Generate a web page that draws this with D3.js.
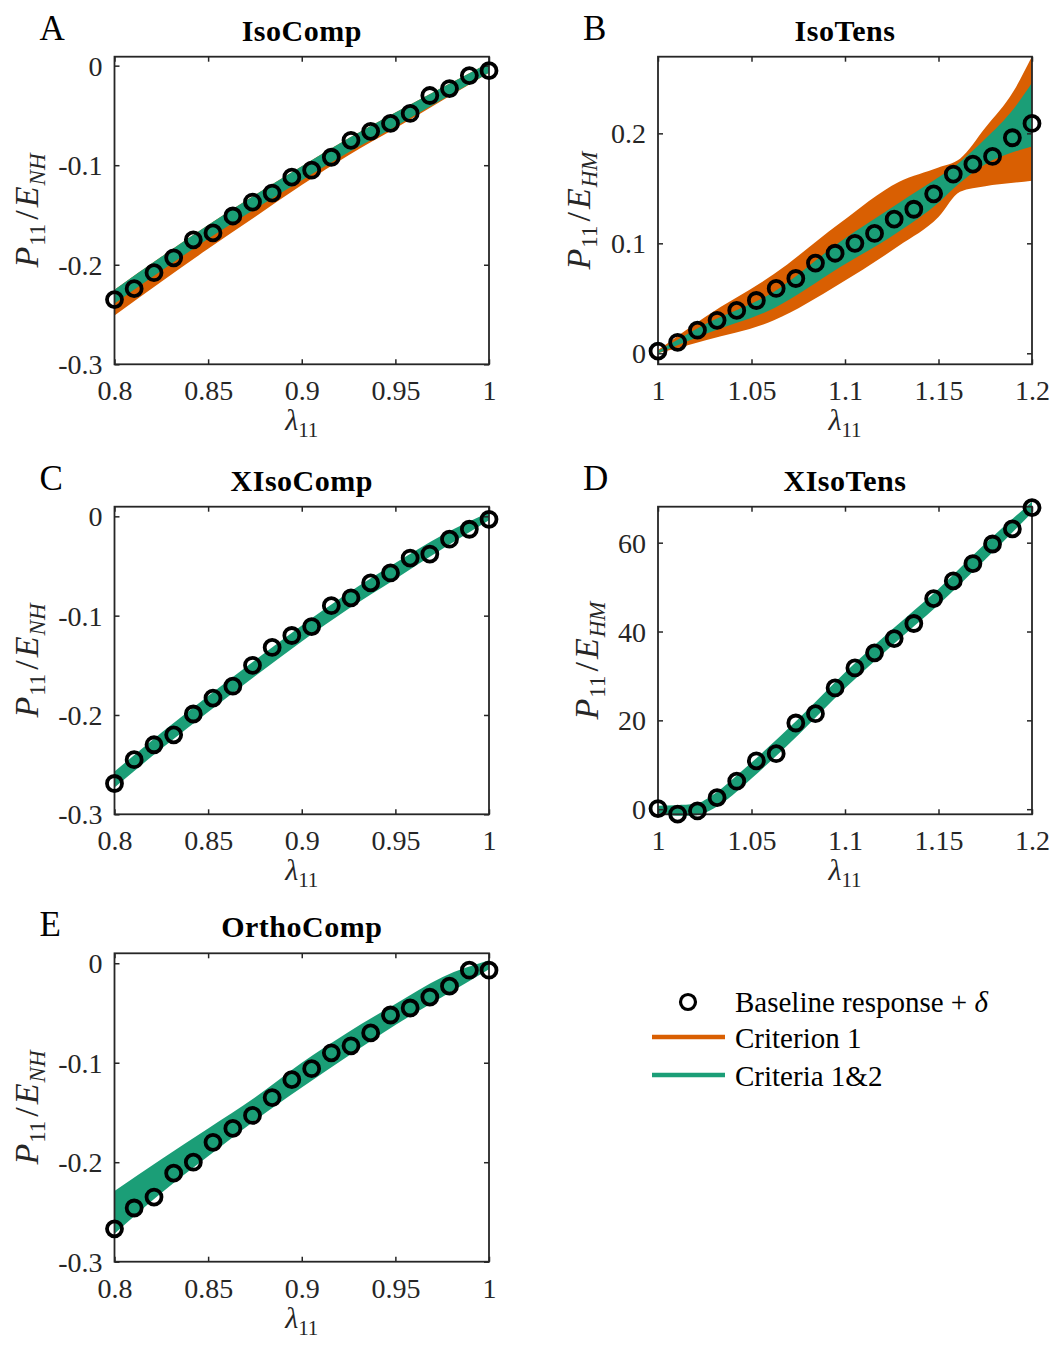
<!DOCTYPE html>
<html><head><meta charset="utf-8">
<script src="https://cdn.jsdelivr.net/npm/d3@7"></script>
<style>
body{margin:0;background:#fff}
svg{display:block}
text{font-family:"Liberation Serif","Times New Roman",serif}
</style>
</head><body>
<svg id="chart" width="1055" height="1345"></svg>
<script>
// ---------- data ----------
const compX = [0.8,0.8105,0.8211,0.8316,0.8421,0.8526,0.8632,0.8737,0.8842,0.8947,0.9053,0.9158,0.9263,0.9368,0.9474,0.9579,0.9684,0.9789,0.9895,1.0];
const tensX = [1.0,1.0105,1.0211,1.0316,1.0421,1.0526,1.0632,1.0737,1.0842,1.0947,1.1053,1.1158,1.1263,1.1368,1.1474,1.1579,1.1684,1.1789,1.1895,1.2];

const isoCompPts  = [-0.235,-0.224,-0.208,-0.193,-0.175,-0.168,-0.151,-0.137,-0.128,-0.112,-0.105,-0.092,-0.075,-0.066,-0.058,-0.048,-0.030,-0.023,-0.010,-0.005];
const isoTensPts  = [0.002,0.010,0.021,0.030,0.039,0.048,0.059,0.068,0.082,0.091,0.100,0.109,0.122,0.131,0.145,0.163,0.172,0.179,0.196,0.209];
const xIsoCompPts = [-0.269,-0.245,-0.230,-0.220,-0.199,-0.183,-0.171,-0.150,-0.132,-0.120,-0.111,-0.090,-0.082,-0.067,-0.057,-0.042,-0.038,-0.023,-0.013,-0.003];
const xIsoTensPts = [0.15,-1.1,-0.4,2.6,6.3,10.9,12.5,19.4,21.5,27.3,31.8,35.2,38.4,41.8,47.4,51.4,55.3,59.7,63.1,67.9];
const orthoCompPts= [-0.267,-0.246,-0.235,-0.211,-0.200,-0.180,-0.166,-0.153,-0.135,-0.117,-0.106,-0.090,-0.083,-0.070,-0.052,-0.045,-0.034,-0.023,-0.007,-0.007];

// band envelopes
const compBandX = [0.8,0.825,0.85,0.875,0.9,0.925,0.95,0.975,1.0];
const isoCompC1Upper = [-0.225,-0.192,-0.160,-0.130,-0.101,-0.073,-0.047,-0.022,0.003];
const isoCompC1Lower = [-0.251,-0.217,-0.184,-0.152,-0.120,-0.090,-0.063,-0.035,-0.007];
const isoCompC12Upper = [-0.225,-0.192,-0.160,-0.130,-0.101,-0.073,-0.047,-0.022,0.003];
const isoCompC12Lower = [-0.239,-0.206,-0.174,-0.144,-0.115,-0.087,-0.061,-0.034,-0.007];

const isoTensBandX = [1.0,1.026,1.062,1.097,1.129,1.15,1.1615,1.175,1.19,1.2];
const isoTensC1Upper = [0.003,0.034,0.072,0.118,0.156,0.169,0.177,0.205,0.238,0.270];
const isoTensC1Lower = [0.000,0.012,0.030,0.063,0.098,0.124,0.147,0.152,0.155,0.157];
const isoTensC12Upper = [0.002,0.027,0.056,0.101,0.137,0.160,0.174,0.195,0.222,0.246];
const isoTensC12Lower = [0.000,0.018,0.041,0.078,0.111,0.137,0.155,0.172,0.183,0.188];

const xIsoCompC12Upper = [-0.257,-0.218,-0.181,-0.145,-0.110,-0.077,-0.047,-0.019,0.004];
const xIsoCompC12Lower = [-0.273,-0.234,-0.197,-0.161,-0.126,-0.093,-0.063,-0.033,-0.004];

const xIsoTensBandX = [1.0,1.01,1.02,1.03,1.04,1.05,1.075,1.1,1.125,1.15,1.175,1.2];
const xIsoTensC12Upper = [0.8,0.9,1.2,3.4,6.8,10.5,20.3,30.8,40.4,49.6,59.8,69.2];
const xIsoTensC12Lower = [-0.8,-1.5,-1.4,0.2,3.2,6.9,16.7,27.2,36.8,46.0,56.2,66.8];

const orthoCompC12Upper = [-0.229,-0.197,-0.166,-0.135,-0.100,-0.069,-0.041,-0.014,0.003];
const orthoCompC12Lower = [-0.272,-0.231,-0.194,-0.158,-0.125,-0.093,-0.062,-0.034,-0.006];

// ticks
const compXTicks = [0.8,0.85,0.9,0.95,1];
const compXTickLabels = ['0.8','0.85','0.9','0.95','1'];
const tensXTicks = [1,1.05,1.1,1.15,1.2];
const tensXTickLabels = ['1','1.05','1.1','1.15','1.2'];
const compYTicks = [-0.3,-0.2,-0.1,0];
const compYTickLabels = ['-0.3','-0.2','-0.1','0'];
const isoTensYTicks = [0,0.1,0.2];
const isoTensYTickLabels = ['0','0.1','0.2'];
const xIsoTensYTicks = [0,20,40,60];
const xIsoTensYTickLabels = ['0','20','40','60'];

const legendLabels = ['Baseline response + ','Criterion 1','Criteria 1&2'];

// ---------- layout ----------
const ORANGE = '#D95F02', GREEN = '#1B9E77', AXC = '#262626';
const panels = [
  {letter:'A', title:'IsoComp', l:114.5, t:56.7, r:489, b:364.3, xd:[0.8,1], yd:[-0.3,0.009],
   xt:compXTicks, xtl:compXTickLabels, yt:compYTicks, ytl:compYTickLabels, ysub:'NH', ylabX:38,
   px:compX, py:isoCompPts, bx:compBandX, c1u:isoCompC1Upper, c1l:isoCompC1Lower, c2u:isoCompC12Upper, c2l:isoCompC12Lower},
  {letter:'B', title:'IsoTens', l:658, t:56.7, r:1032, b:364.3, xd:[1,1.2], yd:[-0.01,0.2697],
   xt:tensXTicks, xtl:tensXTickLabels, yt:isoTensYTicks, ytl:isoTensYTickLabels, ysub:'HM', ylabX:590,
   px:tensX, py:isoTensPts, bx:isoTensBandX, c1u:isoTensC1Upper, c1l:isoTensC1Lower, c2u:isoTensC12Upper, c2l:isoTensC12Lower},
  {letter:'C', title:'XIsoComp', l:114.5, t:506.7, r:489, b:814.3, xd:[0.8,1], yd:[-0.3,0.0097],
   xt:compXTicks, xtl:compXTickLabels, yt:compYTicks, ytl:compYTickLabels, ysub:'NH', ylabX:38,
   px:compX, py:xIsoCompPts, bx:compBandX, c1u:null, c1l:null, c2u:xIsoCompC12Upper, c2l:xIsoCompC12Lower},
  {letter:'D', title:'XIsoTens', l:658, t:506.7, r:1032, b:814.3, xd:[1,1.2], yd:[-1.15,68.1],
   xt:tensXTicks, xtl:tensXTickLabels, yt:xIsoTensYTicks, ytl:xIsoTensYTickLabels, ysub:'HM', ylabX:598,
   px:tensX, py:xIsoTensPts, bx:xIsoTensBandX, c1u:null, c1l:null, c2u:xIsoTensC12Upper, c2l:xIsoTensC12Lower},
  {letter:'E', title:'OrthoComp', l:114.5, t:953.3, r:489, b:1261.7, xd:[0.8,1], yd:[-0.3,0.01],
   xt:compXTicks, xtl:compXTickLabels, yt:compYTicks, ytl:compYTickLabels, ysub:'NH', ylabX:38,
   px:compX, py:orthoCompPts, bx:compBandX, c1u:null, c1l:null, c2u:orthoCompC12Upper, c2l:orthoCompC12Lower}
];

const svg = d3.select('#chart');
svg.append('rect').attr('width',1055).attr('height',1345).attr('fill','#fff');

panels.forEach(p => {
  const x = d3.scaleLinear().domain(p.xd).range([p.l, p.r]);
  const y = d3.scaleLinear().domain(p.yd).range([p.b, p.t]);
  const g = svg.append('g');

  const area = (up, lo) => d3.area()
      .x((d,i) => x(p.bx[i])).y0((d,i) => y(lo[i])).y1((d,i) => y(up[i]))
      .curve(d3.curveMonotoneX)(p.bx);

  if (p.c1u) g.append('path').attr('d', area(p.c1u, p.c1l)).attr('fill', ORANGE);
  g.append('path').attr('d', area(p.c2u, p.c2l)).attr('fill', GREEN);

  // axes (ticks inside)
  const bottom = d3.axisBottom(x).tickValues(p.xt).tickFormat((d,i)=>p.xtl[i]).tickSizeInner(-5).tickSizeOuter(0).tickPadding(16);
  const left = d3.axisLeft(y).tickValues(p.yt).tickFormat((d,i)=>p.ytl[i]).tickSizeInner(-5).tickSizeOuter(0).tickPadding(12);
  const top = d3.axisTop(x).tickValues(p.xt).tickFormat('').tickSizeInner(-5).tickSizeOuter(0);
  const right = d3.axisRight(y).tickValues(p.yt).tickFormat('').tickSizeInner(-5).tickSizeOuter(0);

  const ax = [
    g.append('g').attr('transform',`translate(0,${p.b})`).call(bottom),
    g.append('g').attr('transform',`translate(${p.l},0)`).call(left),
    g.append('g').attr('transform',`translate(0,${p.t})`).call(top),
    g.append('g').attr('transform',`translate(${p.r},0)`).call(right)
  ];
  ax.forEach(a => {
    a.select('.domain').remove();
    a.selectAll('line').attr('stroke', AXC).attr('stroke-width', 1.5);
    a.selectAll('text').attr('fill', AXC).style('font-size','28px').style('font-family','"Liberation Serif", serif');
  });
  ax[1].selectAll('text').attr('dy','0.34em');

  g.append('rect').attr('x',p.l).attr('y',p.t).attr('width',p.r-p.l).attr('height',p.b-p.t)
    .attr('fill','none').attr('stroke',AXC).attr('stroke-width',1.8);

  // markers
  g.selectAll('circle.pt').data(p.py).enter().append('circle')
    .attr('class','pt')
    .attr('cx',(d,i)=>x(p.px[i])).attr('cy',d=>y(d)).attr('r',7.5)
    .attr('fill','none').attr('stroke','#000').attr('stroke-width',3.8);

  // title
  g.append('text').attr('x',(p.l+p.r)/2).attr('y',p.t-16).attr('text-anchor','middle')
    .style('font-size','30px').style('font-weight','bold').style('letter-spacing','0.5px').attr('fill','#000').text(p.title);
  // panel letter
  g.append('text').attr('x',p.l-75).attr('y',p.t-17).style('font-size','35px').attr('fill','#000').text(p.letter);

  // x label
  const xl = g.append('text').attr('x',(p.l+p.r)/2).attr('y',p.b+66).attr('text-anchor','middle').attr('fill',AXC).style('font-size','30px');
  xl.append('tspan').style('font-style','italic').text('λ');
  xl.append('tspan').style('font-size','21px').attr('dy',7).text('11');

  // y label
  const yl = g.append('text').attr('transform',`translate(${p.ylabX},${(p.t+p.b)/2}) rotate(-90)`)
    .attr('text-anchor','middle').attr('fill',AXC).style('font-size','34px');
  yl.append('tspan').style('font-style','italic').text('P');
  yl.append('tspan').style('font-size','23px').attr('dy',7).attr('dx',1).text('11');
  yl.append('tspan').attr('dy',-7).attr('dx',4).text('/');
  yl.append('tspan').style('font-style','italic').attr('dx',3).text('E');
  yl.append('tspan').style('font-style','italic').style('font-size','23px').attr('dy',7).attr('dx',1).text(p.ysub);
});

// legend
const lg = svg.append('g');
lg.append('circle').attr('cx',688).attr('cy',1002).attr('r',7.5).attr('fill','#fff').attr('stroke','#000').attr('stroke-width',3.2);
lg.append('line').attr('x1',652).attr('x2',725).attr('y1',1037).attr('y2',1037).attr('stroke',ORANGE).attr('stroke-width',4.5);
lg.append('line').attr('x1',652).attr('x2',725).attr('y1',1075).attr('y2',1075).attr('stroke',GREEN).attr('stroke-width',4.5);
const t0 = lg.append('text').attr('x',735).attr('y',1012).style('font-size','29px').attr('fill','#000');
t0.append('tspan').text(legendLabels[0]);
t0.append('tspan').style('font-style','italic').text('δ');
lg.append('text').attr('x',735).attr('y',1048).style('font-size','29px').attr('fill','#000').text(legendLabels[1]);
lg.append('text').attr('x',735).attr('y',1086).style('font-size','29px').attr('fill','#000').text(legendLabels[2]);
</script>
</body></html>
